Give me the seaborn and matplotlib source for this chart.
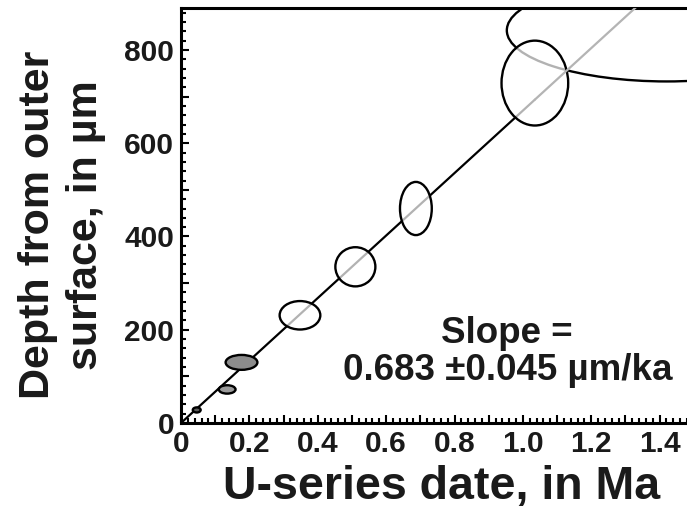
import matplotlib
matplotlib.use("Agg")
import matplotlib.pyplot as plt
from matplotlib.patches import Ellipse
from matplotlib.ticker import MultipleLocator, FuncFormatter
import numpy as np
import pandas as pd
import seaborn as sns

# ---- data ----
age_ma   = [0.046, 0.135, 0.177, 0.348, 0.510, 0.687, 1.035, 1.421]   # ellipse centres (Ma)
depth_um = [28, 72, 130, 231, 335, 460, 729, 842]                     # ellipse centres (µm)
age_err  = [0.023, 0.049, 0.093, 0.119, 0.117, 0.093, 0.195, 0.936]   # full widths (Ma)
depth_err = [11, 18, 32, 61, 84, 114, 182, 219]                       # full heights (µm)
fill     = ["#5a5a5a", "#9a9a9a", "#8c8c8c", "open", "open", "open", "open", "none"]
line_slope = 670.0          # µm per Ma, as drawn
line_break = 1.035          # Ma: line turns grey from here on
x_max, y_max = 1.48, 890
slope_lines = ["Slope =", "0.683 \u00b10.045 \u00b5m/ka"]

sns.set_theme(style="white")
plt.rcParams["font.family"] = ["Liberation Sans", "DejaVu Sans"]
plt.rcParams["font.weight"] = "bold"

fig = plt.figure(figsize=(6.87, 5.14), dpi=100)
ax = fig.add_axes([181/687, 1-423/514, 1-181/687, (423-8)/514])

# regression line
seg1 = pd.DataFrame({"x": [0, line_break]})
seg1["y"] = seg1["x"] * line_slope
seg2 = pd.DataFrame({"x": [line_break, x_max]})
seg2["y"] = seg2["x"] * line_slope
sns.lineplot(data=seg1, x="x", y="y", ax=ax, color="black", lw=1.6, zorder=1)
sns.lineplot(data=seg2, x="x", y="y", ax=ax, color="#b4b4b4", lw=1.6, zorder=3)

for cx, cy, w, h, f in zip(age_ma, depth_um, age_err, depth_err, fill):
    if f == "open":
        fc, z = (1, 1, 1, 0.7), 2
    elif f == "none":
        fc, z = "none", 1
    else:
        fc, z = f, 2
    ax.add_patch(Ellipse((cx, cy), w, h, facecolor=fc, edgecolor="black",
                         lw=1.7, zorder=z))

ax.set_xlim(0, x_max)
ax.set_ylim(0, y_max)

ax.xaxis.set_major_locator(MultipleLocator(0.1))
ax.xaxis.set_minor_locator(MultipleLocator(0.02))
ax.yaxis.set_major_locator(MultipleLocator(100))
ax.yaxis.set_minor_locator(MultipleLocator(20))

def xfmt(v, p):
    k = int(round(v * 10))
    if k % 2:
        return ""
    return "0" if k == 0 else f"{v:.1f}"

def yfmt(v, p):
    k = int(round(v))
    return f"{k}" if k % 200 == 0 else ""

ax.xaxis.set_major_formatter(FuncFormatter(xfmt))
ax.yaxis.set_major_formatter(FuncFormatter(yfmt))

ax.tick_params(which="both", direction="in", color="black", width=1.5,
               bottom=True, left=True, top=False, right=False)
ax.tick_params(which="major", length=6, labelsize=21.5, pad=5, labelcolor="#1a1a1a")
ax.tick_params(which="minor", length=3.5)

for s in ["left", "bottom", "top"]:
    ax.spines[s].set_visible(True)
    ax.spines[s].set_color("black")
    ax.spines[s].set_linewidth(2.2)
ax.spines["right"].set_visible(False)

ax.set_xlabel("U-series date, in Ma", fontsize=33.5, fontweight="bold",
              va="center", color="#1a1a1a")
ax.xaxis.set_label_coords(0.515, -0.154)
ax.set_ylabel("Depth from outer\nsurface, in µm", fontsize=31, fontweight="bold",
              va="center", linespacing=1.25, color="#1a1a1a")
ax.yaxis.set_label_coords(-0.235, 0.477)

ax.text(0.952, 193, slope_lines[0], ha="center", va="center",
        fontsize=26.5, fontweight="bold", color="#1a1a1a")
ax.text(0.956, 113, slope_lines[1], ha="center", va="center",
        fontsize=26.5, fontweight="bold", color="#1a1a1a")

fig.savefig("out.png", dpi=100)
